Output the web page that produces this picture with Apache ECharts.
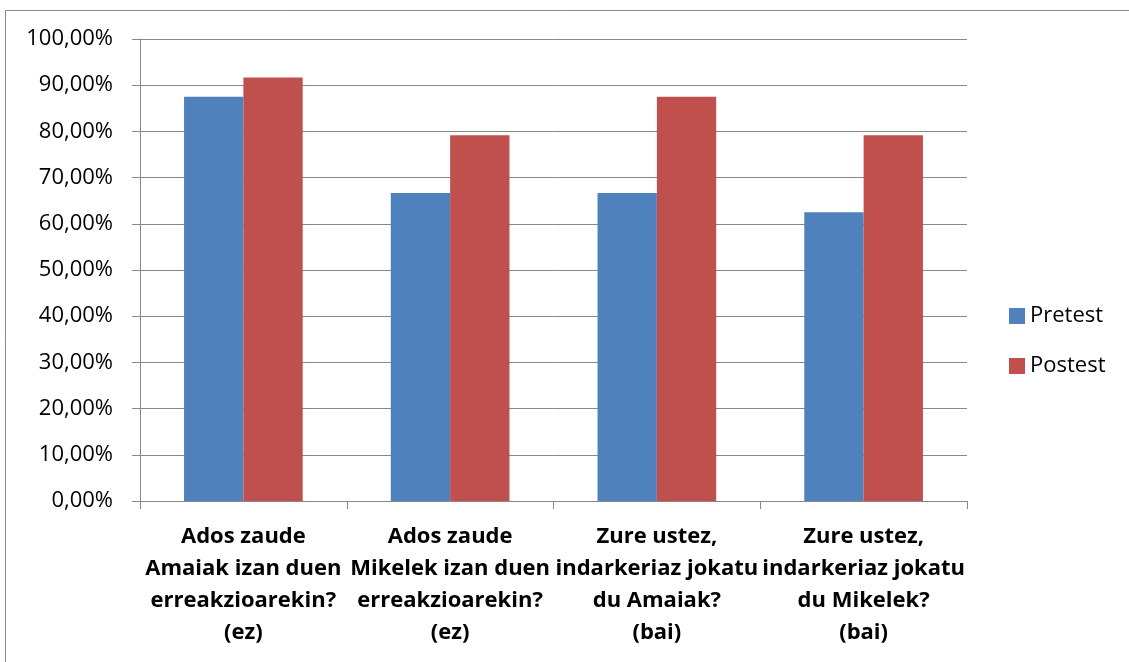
<!DOCTYPE html>
<html>
<head>
<meta charset="utf-8">
<script src="https://cdn.jsdelivr.net/npm/echarts@6/dist/echarts.min.js"></script>
<style>
  html, body { margin: 0; padding: 0; background: #fff; }
  #chart { width: 1129px; height: 662px; }
</style>
</head>
<body>
<div id="chart"></div>
<script>
// kategoriak eta balioak (%)
const categories = [
    'Ados zaude\nAmaiak izan duen\nerreakzioarekin?\n(ez)',
    'Ados zaude\nMikelek izan duen\nerreakzioarekin?\n(ez)',
    'Zure ustez,\nindarkeriaz jokatu\ndu Amaiak?\n(bai)',
    'Zure ustez,\nindarkeriaz jokatu\ndu Mikelek?\n(bai)'
];
const pretest = [87.5, 66.67, 66.67, 62.5];
const postest = [91.67, 79.17, 87.5, 79.17];

const chart = echarts.init(document.getElementById('chart'));
const font = 'Open Sans';

chart.setOption({
    animation: false,
    textStyle: { fontFamily: font },
    graphic: [{
        type: 'rect',
        shape: { x: 5.5, y: 10.5, width: 1130, height: 660 },
        style: { fill: 'none', stroke: '#888', lineWidth: 1 },
        silent: true
    }],
    grid: { left: 140, right: 162, top: 39, bottom: 161 },
    legend: {
        orient: 'vertical',
        left: 1009,
        top: 305,
        padding: 0,
        itemWidth: 16,
        itemHeight: 16,
        itemGap: 28,
        icon: 'rect',
        textStyle: { fontSize: 22, color: '#000', fontFamily: font },
        data: ['Pretest', 'Postest']
    },
    xAxis: {
        type: 'category',
        data: categories,
        axisLine: { lineStyle: { color: '#888', width: 1 } },
        axisTick: { show: true, length: 8, lineStyle: { color: '#888' } },
        axisLabel: {
            interval: 0,
            margin: 20,
            fontSize: 22,
            fontWeight: 'bold',
            lineHeight: 32,
            color: '#000',
            fontFamily: font
        }
    },
    yAxis: {
        type: 'value',
        min: 0,
        max: 100,
        interval: 10,
        axisLine: { show: true, lineStyle: { color: '#888', width: 1 } },
        axisTick: { show: true, length: 8, lineStyle: { color: '#888' } },
        splitLine: { lineStyle: { color: '#888', width: 1 } },
        axisLabel: {
            margin: 27,
            fontSize: 22,
            color: '#000',
            fontFamily: font,
            formatter: v => v.toFixed(2).replace('.', ',') + '%'
        }
    },
    series: [
        {
            name: 'Pretest',
            type: 'bar',
            data: pretest,
            barGap: '0%',
            barCategoryGap: '42.6%',
            itemStyle: { color: '#4f81bd' }
        },
        {
            name: 'Postest',
            type: 'bar',
            data: postest,
            barGap: '0%',
            barCategoryGap: '42.6%',
            itemStyle: { color: '#c0504d' }
        }
    ]
});

window.addEventListener('resize', () => chart.resize());
</script>
</body>
</html>
